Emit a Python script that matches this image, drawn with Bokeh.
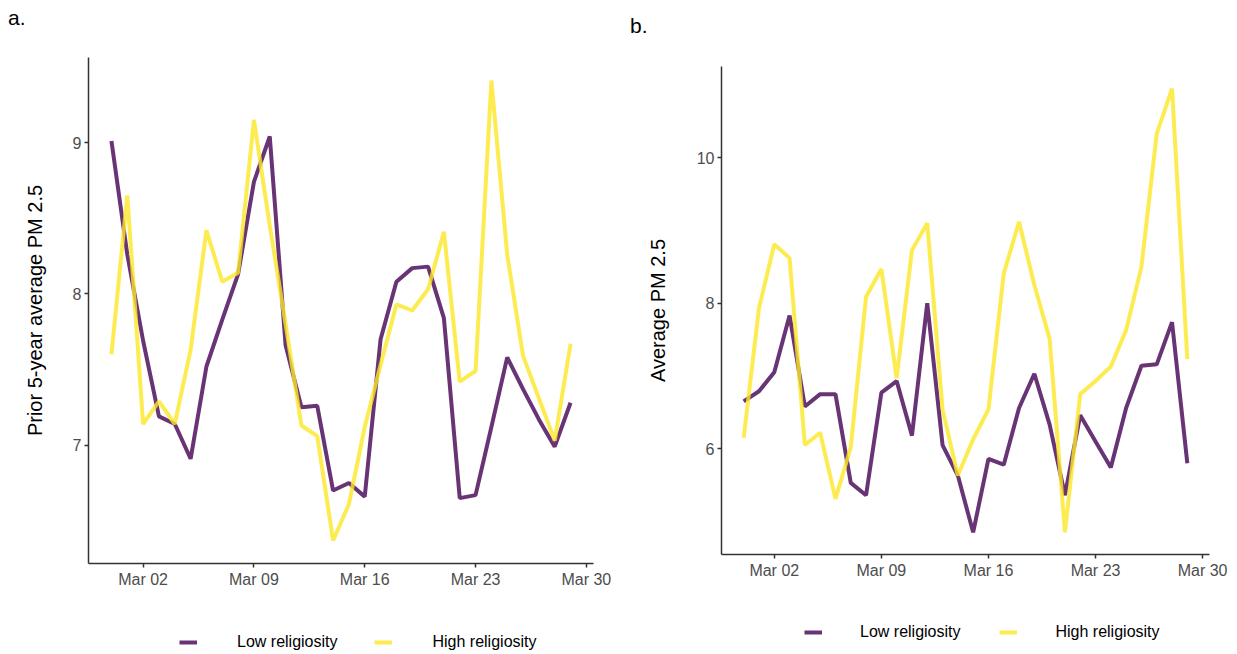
import pandas as pd
from bokeh.plotting import figure
from bokeh.layouts import row, column
from bokeh.models import (Range1d, FixedTicker, DatetimeTickFormatter, Legend,
                          LegendItem, ColumnDataSource, Div)
from bokeh.embed import file_html
from bokeh.resources import INLINE

# ---------------- data ----------------
dates = ["2020-02-29", "2020-03-01", "2020-03-02", "2020-03-03", "2020-03-04",
         "2020-03-05", "2020-03-06", "2020-03-07", "2020-03-08", "2020-03-09",
         "2020-03-10", "2020-03-11", "2020-03-12", "2020-03-13", "2020-03-14",
         "2020-03-15", "2020-03-16", "2020-03-17", "2020-03-18", "2020-03-19",
         "2020-03-20", "2020-03-21", "2020-03-22", "2020-03-23", "2020-03-24",
         "2020-03-25", "2020-03-26", "2020-03-27", "2020-03-28", "2020-03-29"]

# panel a: prior 5-year average PM 2.5
a_low = [9.01, 8.26, 7.69, 7.19, 7.14, 6.91, 7.52, 7.83, 8.13, 8.74,
         9.04, 7.66, 7.25, 7.26, 6.70, 6.75, 6.66, 7.70, 8.08, 8.17,
         8.18, 7.84, 6.65, 6.67, 7.12, 7.58, 7.37, 7.17, 6.99, 7.28]
a_high = [7.60, 8.65, 7.14, 7.29, 7.14, 7.63, 8.42, 8.08, 8.14, 9.15,
          8.45, 7.80, 7.13, 7.06, 6.37, 6.61, 7.12, 7.53, 7.93, 7.89,
          8.03, 8.41, 7.42, 7.49, 9.41, 8.26, 7.59, 7.31, 7.03, 7.67]

# panel b: average PM 2.5
b_low = [6.65, 6.79, 7.05, 7.83, 6.58, 6.75, 6.75, 5.53, 5.36, 6.77,
         6.93, 6.18, 8.00, 6.05, 5.63, 4.85, 5.86, 5.78, 6.56, 7.03,
         6.33, 5.36, 6.46, 6.10, 5.74, 6.56, 7.14, 7.16, 7.74, 5.80]
b_high = [6.15, 7.93, 8.81, 8.62, 6.05, 6.22, 5.31, 6.02, 8.09, 8.47,
          6.97, 8.73, 9.10, 6.54, 5.63, 6.13, 6.54, 8.41, 9.12, 8.25,
          7.51, 4.85, 6.75, 6.93, 7.13, 7.63, 8.50, 10.33, 10.95, 7.23]

x_tick_dates = ["2020-03-02", "2020-03-09", "2020-03-16", "2020-03-23", "2020-03-30"]
a_yticks = [7, 8, 9]
b_yticks = [6, 8, 10]
series_names = ["Low religiosity", "High religiosity"]
series_colors = ["#440154", "#FDE725"]

FONT = "Liberation Sans"
LW = 4
x = pd.to_datetime(dates)
x_ms = [pd.Timestamp(d).value // 10**6 for d in dates]
tick_ms = [pd.Timestamp(d).value // 10**6 for d in x_tick_dates]


def header(tag, width, height, pad_top, pad_left):
    html = (f'<div style="padding:{pad_top}px 0 0 {pad_left}px; '
            f'font-family:\'{FONT}\'; font-size:21px; line-height:21px; '
            f'color:black; white-space:nowrap">{tag}</div>')
    return Div(text=html, width=width, height=height, margin=0)


def legend_fig(width, height, lows, highs, vx, vy, standoff, spacing):
    lf = figure(width=width, height=height, x_range=Range1d(0, 1),
                y_range=Range1d(0, 1), output_backend="svg",
                toolbar_location=None, min_border=0,
                x_axis_location=None, y_axis_location=None)
    lf.outline_line_color = None
    lf.grid.visible = False
    lf.background_fill_color = "white"
    lf.border_fill_color = "white"
    # the series themselves, lying far outside this strip, only feed the keys
    rs = [lf.line(x=x_ms, y=vals, line_color=c, line_alpha=0.8, line_width=LW)
          for c, vals in zip(series_colors, (lows, highs))]
    leg = Legend(items=[LegendItem(label=n, renderers=[r])
                        for n, r in zip(series_names, rs)],
                 orientation="horizontal", location=(vx, vy),
                 padding=0, margin=0, border_line_color=None,
                 background_fill_alpha=0, glyph_width=18, glyph_height=16,
                 label_height=16, label_standoff=standoff, spacing=spacing,
                 label_text_font=FONT, label_text_font_size="16px",
                 label_text_color="black", label_text_baseline="middle")
    lf.add_layout(leg, "center")
    return lf


def make_panel(low, high, yticks, ylabel, width, height, mb_left, mb_right,
               mb_top, mb_bottom, label_standoff):
    pad = pd.Timedelta(days=0.05 * (x.max() - x.min()).days)
    lo = min(min(low), min(high))
    hi = max(max(low), max(high))
    ypad = 0.05 * (hi - lo)
    p = figure(width=width, height=height, x_axis_type="datetime",
               x_range=Range1d(x.min() - pad, x.max() + pad),
               y_range=Range1d(lo - ypad, hi + ypad),
               output_backend="svg", toolbar_location=None,
               min_border_left=mb_left, min_border_right=mb_right,
               min_border_top=mb_top, min_border_bottom=mb_bottom)
    p.outline_line_color = None
    p.grid.visible = False
    p.background_fill_color = "white"
    p.border_fill_color = "white"

    src = ColumnDataSource(dict(x=x, low=low, high=high))
    p.line("x", "low", source=src, line_color=series_colors[0],
           line_alpha=0.8, line_width=LW)
    p.line("x", "high", source=src, line_color=series_colors[1],
           line_alpha=0.8, line_width=LW)

    p.xaxis.ticker = FixedTicker(ticks=tick_ms)
    fmt = "%b %d"
    p.xaxis.formatter = DatetimeTickFormatter(days=fmt, months=fmt, hours=fmt,
                                              years=fmt, minutes=fmt)
    p.yaxis.ticker = FixedTicker(ticks=yticks)
    for ax in (p.xaxis[0], p.yaxis[0]):
        ax.axis_line_color = "#333333"
        ax.axis_line_width = 1.5
        ax.major_tick_line_color = "#333333"
        ax.major_tick_line_width = 1.5
        ax.major_tick_out = 4
        ax.major_tick_in = 0
        ax.minor_tick_line_color = None
        ax.major_label_text_font = FONT
        ax.major_label_text_font_size = "16px"
        ax.major_label_text_color = "#4D4D4D"
        ax.major_label_standoff = 3
    p.yaxis.axis_label = ylabel
    p.yaxis.axis_label_text_font = FONT
    p.yaxis.axis_label_text_font_size = "20px"
    p.yaxis.axis_label_text_font_style = "normal"
    p.yaxis.axis_label_text_color = "black"
    p.yaxis.axis_label_standoff = label_standoff
    return p


# column a (x 0..620): header 30, main 594, legend strip 30  -> 654
ha = header("a.", 620, 30, 7, 8)
pa = make_panel(a_low, a_high, a_yticks, "Prior 5-year average PM 2.5",
                width=620, height=594, mb_left=88, mb_right=27, mb_top=27,
                mb_bottom=61, label_standoff=24)
la = legend_fig(620, 30, a_low, a_high, 91, 3, 40, 37)

# column b (x 620..1237): header 40, main 584, legend strip 30  -> 654
hb = header("b.", 617, 40, 15, 10)
pb = make_panel(b_low, b_high, b_yticks, "Average PM 2.5",
                width=617, height=584, mb_left=101, mb_right=28, mb_top=26,
                mb_bottom=70, label_standoff=25)
lb = legend_fig(617, 30, b_low, b_high, 83, 13, 38, 39)

layout = row(column(ha, pa, la), column(hb, pb, lb))
open("out.html", "w").write(file_html(layout, INLINE))
